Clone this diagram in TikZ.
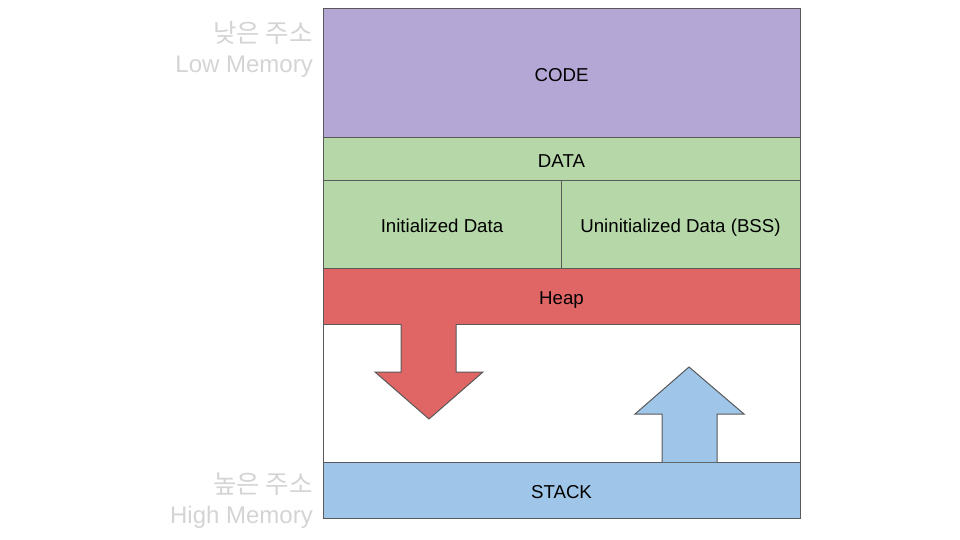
\documentclass[tikz,border=0pt]{standalone}
\usepackage{fontspec}
\setmainfont{Liberation Sans}
\newfontfamily\krfont{Noto Sans CJK KR}
\definecolor{codec}{HTML}{B4A7D6}
\definecolor{datac}{HTML}{B6D7A8}
\definecolor{heapc}{HTML}{E06666}
\definecolor{stackc}{HTML}{9FC5E8}
\definecolor{edgec}{HTML}{595959}
\definecolor{labc}{HTML}{D4D4D4}
\begin{document}
\begin{tikzpicture}[x=1pt,y=-1pt,
  seg/.style={draw=edgec,line width=1pt},
  segtext/.style={font=\fontsize{18.67}{22}\selectfont,text=black,text height=13.5pt,text depth=4pt},
  side/.style={font=\fontsize{24}{28}\selectfont,text=labc,anchor=east,inner sep=0pt,text height=17pt,text depth=5pt},
  sidekr/.style={side,font=\krfont\fontsize{25.5}{28}\selectfont}]
\useasboundingbox (0,0) rectangle (960,540);
% white area
\path[seg,fill=white] (323,324) rectangle (800,462);
% segments
\path[seg,fill=codec] (323,9) rectangle (800,138);
\path[seg,fill=datac] (323,138) rectangle (800,181);
\path[seg,fill=datac] (323,181) rectangle (561,268);
\path[seg,fill=datac] (561,181) rectangle (800,268);
\path[seg,fill=heapc] (323,268) rectangle (800,324);
\path[seg,fill=stackc] (323,462) rectangle (800,518);
% arrows
\path[seg,fill=heapc,line join=miter] (401,324) -- (401,372) -- (375,372) -- (429,419) -- (483,372) -- (456,372) -- (456,324);
\path[seg,fill=stackc,line join=miter] (662,462) -- (662,414) -- (635,414) -- (689,367) -- (744,414) -- (717,414) -- (717,462);
% texts
\node[segtext] (code) at (561.5,77) {CODE};
\node[segtext] (data) at (561.5,163) {DATA};
\node[segtext] (init) at (442,228) {Initialized Data};
\node[segtext] (uninit) at (680.5,228) {Uninitialized Data (BSS)};
\node[segtext] (heap) at (561.5,300) {Heap};
\node[segtext] (stack) at (561.5,494) {STACK};
% side labels
\node[sidekr] (lowkr) at (313,37) {낮은 주소};
\node[side] (loweng) at (313,67) {Low Memory};
\node[sidekr] (highkr) at (313,487) {높은 주소};
\node[side] (higheng) at (313,517) {High Memory};
\end{tikzpicture}
\end{document}
